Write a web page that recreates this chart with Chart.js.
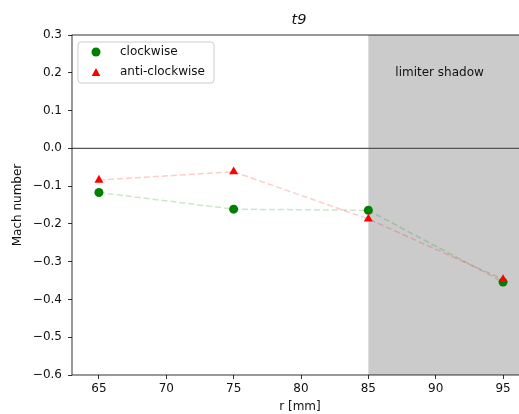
<!DOCTYPE html>
<html>
<head>
<meta charset="utf-8">
<script src="https://cdn.jsdelivr.net/npm/chart.js@4/dist/chart.umd.min.js"></script>
<style>
  html, body { margin: 0; padding: 0; background: #fff; overflow: hidden; }
  #wrap { width: 519px; height: 414px; overflow: hidden; position: relative; }
  canvas { display: block; }
</style>
</head>
<body>
<div id="wrap"><canvas id="chart" width="541" height="414"></canvas></div>
<script>
const radius = [65, 75, 85, 95];
const clockwise = [-0.117, -0.161, -0.164, -0.354];
const antiClockwise = [-0.084, -0.062, -0.187, -0.347];
const xTicks = [65, 70, 75, 80, 85, 90, 95];
const yTicks = [-0.6, -0.5, -0.4, -0.3, -0.2, -0.1, 0.0, 0.1, 0.2, 0.3];
const shadowStart = 85;
const fontFamily = "'DejaVu Sans', sans-serif";
const textColor = "#111";

function fmtY(v) {
  if (Math.abs(v) < 1e-9) return "0.0";
  return v.toFixed(1).replace("-", "\u2212");
}

const extras = {
  id: "extras",
  beforeDatasetsDraw(chart) {
    const { ctx, chartArea: a, scales: { x, y } } = chart;
    ctx.save();
    // limiter shadow region
    const xs = x.getPixelForValue(shadowStart);
    ctx.fillStyle = "#cbcbcb";
    ctx.fillRect(xs, a.top, a.right - xs, a.bottom - a.top);
    ctx.fillStyle = textColor;
    ctx.font = "12px " + fontFamily;
    ctx.textAlign = "left";
    ctx.textBaseline = "alphabetic";
    ctx.fillText("limiter shadow", x.getPixelForValue(87), y.getPixelForValue(0.191));
    // zero line
    const y0 = y.getPixelForValue(0);
    ctx.strokeStyle = "#555";
    ctx.lineWidth = 1.3;
    ctx.beginPath();
    ctx.moveTo(a.left, y0);
    ctx.lineTo(a.right, y0);
    ctx.stroke();
    ctx.restore();
  },
  afterDraw(chart) {
    const { ctx, chartArea: a } = chart;
    ctx.save();
    // spines
    ctx.strokeStyle = "#000";
    ctx.lineWidth = 0.8;
    ctx.strokeRect(a.left, a.top, a.right - a.left, a.bottom - a.top);
    // title and axis labels
    ctx.fillStyle = textColor;
    ctx.textAlign = "center";
    ctx.textBaseline = "middle";
    ctx.font = "italic 14.5px " + fontFamily;
    ctx.fillText("t9", 299, 20);
    ctx.font = "12px " + fontFamily;
    ctx.fillText("r [mm]", 300, 407);
    ctx.save();
    ctx.translate(18, (a.top + a.bottom) / 2);
    ctx.rotate(-Math.PI / 2);
    ctx.fillText("Mach number", 0, 0);
    ctx.restore();
    // legend
    const lx = 78, ly = 42, lw = 136, lh = 41, r = 3;
    ctx.beginPath();
    ctx.moveTo(lx + r, ly);
    ctx.arcTo(lx + lw, ly, lx + lw, ly + lh, r);
    ctx.arcTo(lx + lw, ly + lh, lx, ly + lh, r);
    ctx.arcTo(lx, ly + lh, lx, ly, r);
    ctx.arcTo(lx, ly, lx + lw, ly, r);
    ctx.closePath();
    ctx.fillStyle = "rgba(255,255,255,0.8)";
    ctx.fill();
    ctx.strokeStyle = "#cccccc";
    ctx.lineWidth = 1;
    ctx.stroke();
    ctx.fillStyle = "#008000";
    ctx.beginPath();
    ctx.arc(96, 52, 4.5, 0, Math.PI * 2);
    ctx.fill();
    ctx.fillStyle = "#ff0000";
    ctx.beginPath();
    ctx.moveTo(96, 68);
    ctx.lineTo(100.3, 76);
    ctx.lineTo(91.7, 76);
    ctx.closePath();
    ctx.fill();
    ctx.fillStyle = textColor;
    ctx.textAlign = "left";
    ctx.fillText("clockwise", 120, 52);
    ctx.fillText("anti-clockwise", 120, 72);
    ctx.restore();
  }
};

new Chart(document.getElementById("chart"), {
  type: "scatter",
  data: {
    datasets: [
      {
        label: "anti-clockwise",
        data: radius.map((r, i) => ({ x: r, y: antiClockwise[i] })),
        showLine: true,
        borderColor: "rgba(255,0,0,0.2)",
        borderWidth: 1.5,
        borderDash: [6, 3],
        pointStyle: "triangle",
        pointRadius: 5.2,
        pointBackgroundColor: "#ff0000",
        pointBorderColor: "#ff0000",
        pointBorderWidth: 0
      },
      {
        label: "clockwise",
        data: radius.map((r, i) => ({ x: r, y: clockwise[i] })),
        showLine: true,
        borderColor: "rgba(0,128,0,0.2)",
        borderWidth: 1.5,
        borderDash: [6, 3],
        pointStyle: "circle",
        pointRadius: 4.5,
        pointBackgroundColor: "#008000",
        pointBorderColor: "#008000",
        pointBorderWidth: 0
      }
    ]
  },
  options: {
    responsive: false,
    animation: false,
    devicePixelRatio: 1,
    layout: { padding: { left: 0, top: 35, right: 11, bottom: 0 } },
    plugins: { legend: { display: false }, tooltip: { enabled: false } },
    scales: {
      x: {
        type: "linear",
        min: 63,
        max: 97,
        afterFit(s) { s.height = 39; },
        afterBuildTicks(s) { s.ticks = xTicks.map(v => ({ value: v })); },
        grid: { drawOnChartArea: false, drawTicks: true, tickLength: 4, color: "#000", lineWidth: 0.8 },
        border: { display: false },
        ticks: { color: textColor, font: { family: fontFamily, size: 12 }, padding: 3, maxRotation: 0, autoSkip: false }
      },
      y: {
        type: "linear",
        min: -0.6,
        max: 0.3,
        afterFit(s) { s.width = 72; },
        afterBuildTicks(s) { s.ticks = yTicks.map(v => ({ value: v })); },
        grid: { drawOnChartArea: false, drawTicks: true, tickLength: 4, color: "#000", lineWidth: 0.8 },
        border: { display: false },
        ticks: { color: textColor, font: { family: fontFamily, size: 12 }, padding: 6, autoSkip: false, callback: v => fmtY(v) }
      }
    }
  },
  plugins: [extras]
});
</script>
</body>
</html>
